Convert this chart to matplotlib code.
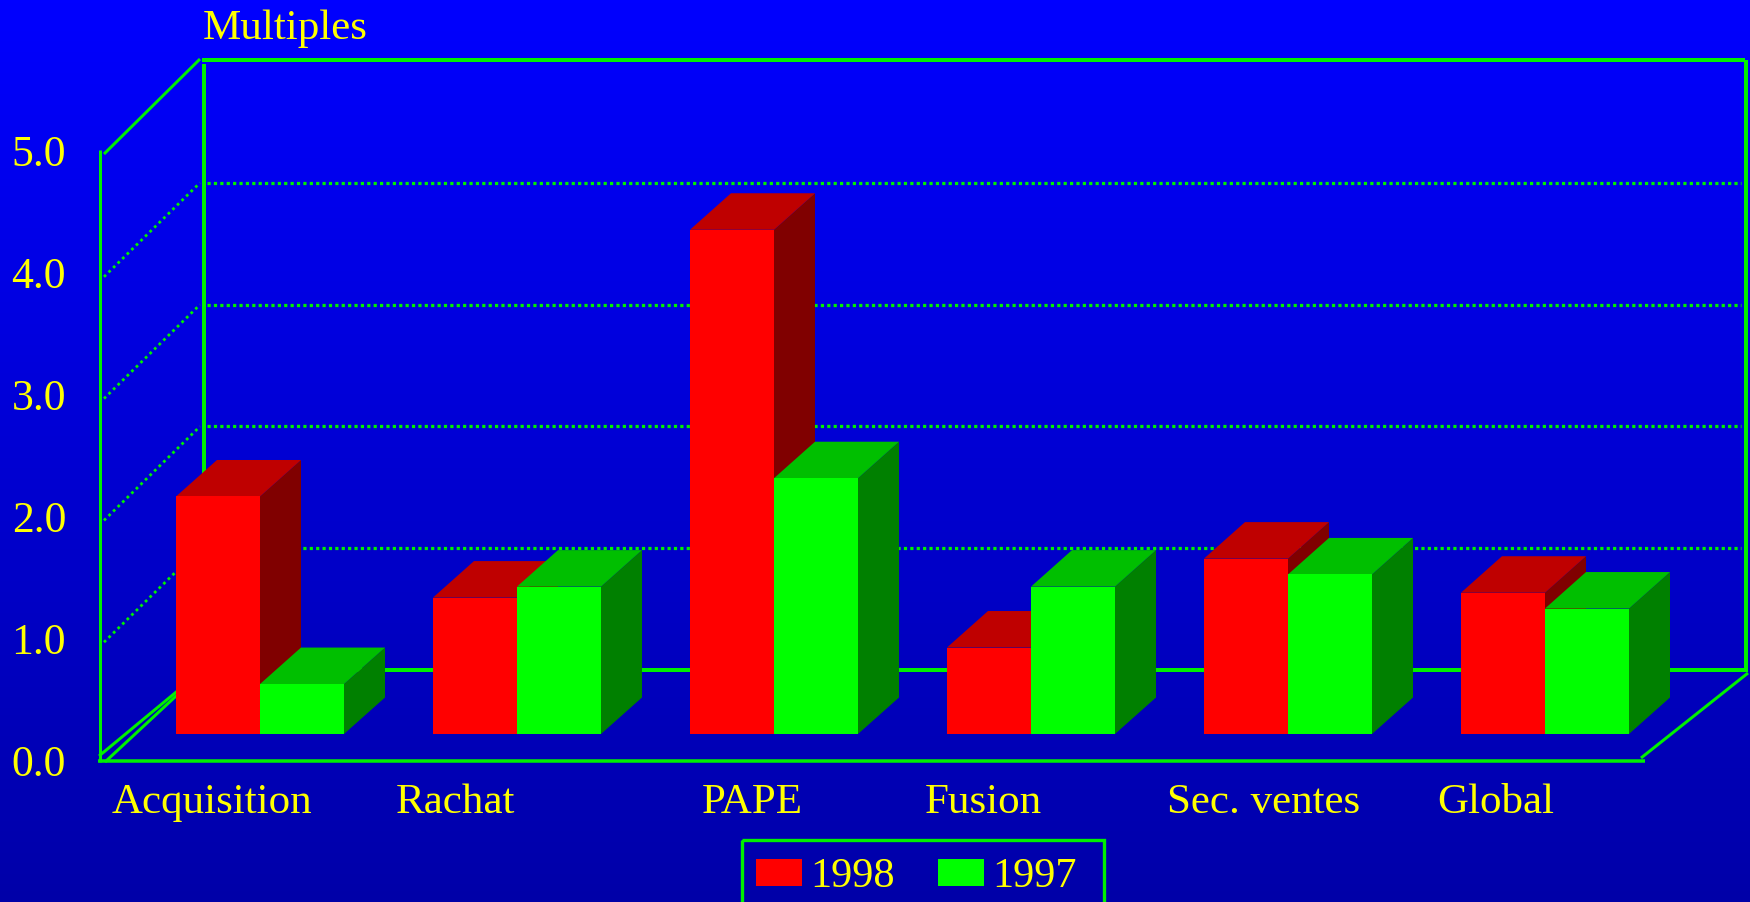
"""
Multiples per operation type, 1998 vs 1997 - pseudo 3D bars on a slide-style
blue gradient.
"""

import numpy as np
import matplotlib
matplotlib.use("Agg")
import matplotlib.pyplot as plt
from matplotlib.patches import Rectangle

plt.rcParams["font.family"] = ["Liberation Serif", "DejaVu Serif"]

# ── Data ─────────────────────────────────────────────────────────────────────
categories = ["Acquisition", "Rachat", "PAPE", "Fusion", "Sec. ventes", "Global"]
values_1998 = [1.95, 1.12, 4.14, 0.71, 1.44, 1.16]
values_1997 = [0.41, 1.21, 2.10, 1.21, 1.31, 1.03]
series_names = ["1998", "1997"]
y_ticks = [0.0, 1.0, 2.0, 3.0, 4.0, 5.0]
y_title = "Multiples"

# ── Layout, in reference pixels ──────────────────────────────────────────────
W, H = 1750, 903
GROUP_STEP = 257
BAR_W = 84
UNIT = 121.8           # pixels per 1.0 on the y scale
BAR_X0, BAR_Y0 = 176, 735
DEPTH_X, DEPTH_Y = 41, 36.5

YELLOW = "#FFFF00"
LINE = "#00F000"
FS = 31

fig = plt.figure(figsize=(W / 100, H / 100), dpi=100)

# frame axes works in pixels, holds background, walls and all the text
fr = fig.add_axes([0, 0, 1, 1], zorder=1)
fr.set_xlim(0, W)
fr.set_ylim(H, 0)
fr.axis("off")

grad = np.zeros((256, 1, 3))
grad[:, 0, 2] = np.linspace(1.0, 0.66, 256)
fr.imshow(grad, extent=(0, W, H, 0), aspect="auto", zorder=0)
fr.set_xlim(0, W)
fr.set_ylim(H, 0)


def seg(xs, ys, lw=3, **kw):
    fr.plot(xs, ys, color=LINE, lw=lw * 0.72, solid_capstyle="butt", zorder=2, **kw)


# walls and floor
seg([100, 100], [151, 763], lw=3)
seg([104, 200], [155, 60], lw=3)
seg([204, 204], [65, 671], lw=4)
seg([202, 1745], [61, 61], lw=4)
seg([1746, 1746], [61, 673], lw=4)
seg([204, 1745], [671, 671], lw=4)
seg([98, 1645], [762, 762], lw=3.5)
seg([1641, 1748], [759, 674], lw=3)
seg([99, 204], [757, 670], lw=3)
seg([105, 204], [763, 671], lw=3)

# dotted grid, back wall plus the slanted bit on the side wall
for k in range(1, 5):
    back_y = 671 - k * UNIT
    fr.plot([207, 1741], [back_y, back_y], color=LINE, lw=2.3,
            ls=(0, (1, 1.0)), dash_capstyle="butt", zorder=2)
    fr.plot([104, 200], [back_y + 94, back_y], color=LINE, lw=2.0,
            ls=(0, (1, 1.3)), dash_capstyle="butt", zorder=2)

# ── Bars, real data scale on a transparent axes on top ───────────────────────
ax = fig.add_axes([0, 0, 1, 1], zorder=2)
ax.patch.set_alpha(0)
ax.axis("off")
ax.set_xlim(-BAR_X0 / GROUP_STEP, (W - BAR_X0) / GROUP_STEP)
ax.set_ylim((BAR_Y0 - H) / UNIT, BAR_Y0 / UNIT)

bw = BAR_W / GROUP_STEP
dx = DEPTH_X / GROUP_STEP
dy = DEPTH_Y / UNIT


def bar3d(x, val, front, side, top, z):
    ax.bar(x, val, width=bw, align="edge", color=front, linewidth=0, zorder=z + 0.2)
    ax.fill([x + bw, x + bw + dx, x + bw + dx, x + bw],
            [0, dy, val + dy, val], color=side, lw=0, zorder=z)
    ax.fill([x, x + dx, x + bw + dx, x + bw],
            [val, val + dy, val + dy, val], color=top, lw=0, zorder=z + 0.1)


for i, (v98, v97) in enumerate(zip(values_1998, values_1997)):
    bar3d(i, v98, "#FF0000", "#800000", "#BF0000", 3 + i)
    bar3d(i + bw, v97, "#00FF00", "#008000", "#00BF00", 3.5 + i)

# ── Text ─────────────────────────────────────────────────────────────────────
fr.text(203, 39, y_title, color=YELLOW, fontsize=FS, va="baseline", ha="left")
for t in y_ticks:
    fr.text(66, 776 - t * 122, f"{t:.1f}", color=YELLOW, fontsize=FS + 0.5,
            va="baseline", ha="right")

label_x = [112, 396, 702, 925, 1167, 1437]
for name, lx in zip(categories, label_x):
    fr.text(lx, 813, name, color=YELLOW, fontsize=FS, va="baseline", ha="left")

# legend box runs off the bottom of the slide
fr.add_patch(Rectangle((742, 841), 362, 80, fill=False, edgecolor=LINE, lw=2.4, zorder=2))
fr.add_patch(Rectangle((756, 860), 46, 27, facecolor="#FF0000", lw=0, zorder=2))
fr.add_patch(Rectangle((938, 860), 46, 27, facecolor="#00FF00", lw=0, zorder=2))
fr.text(810, 887, series_names[0], color=YELLOW, fontsize=FS - 0.5, va="baseline", ha="left")
fr.text(992, 887, series_names[1], color=YELLOW, fontsize=FS - 0.5, va="baseline", ha="left")

fig.savefig("out.png", dpi=100)
